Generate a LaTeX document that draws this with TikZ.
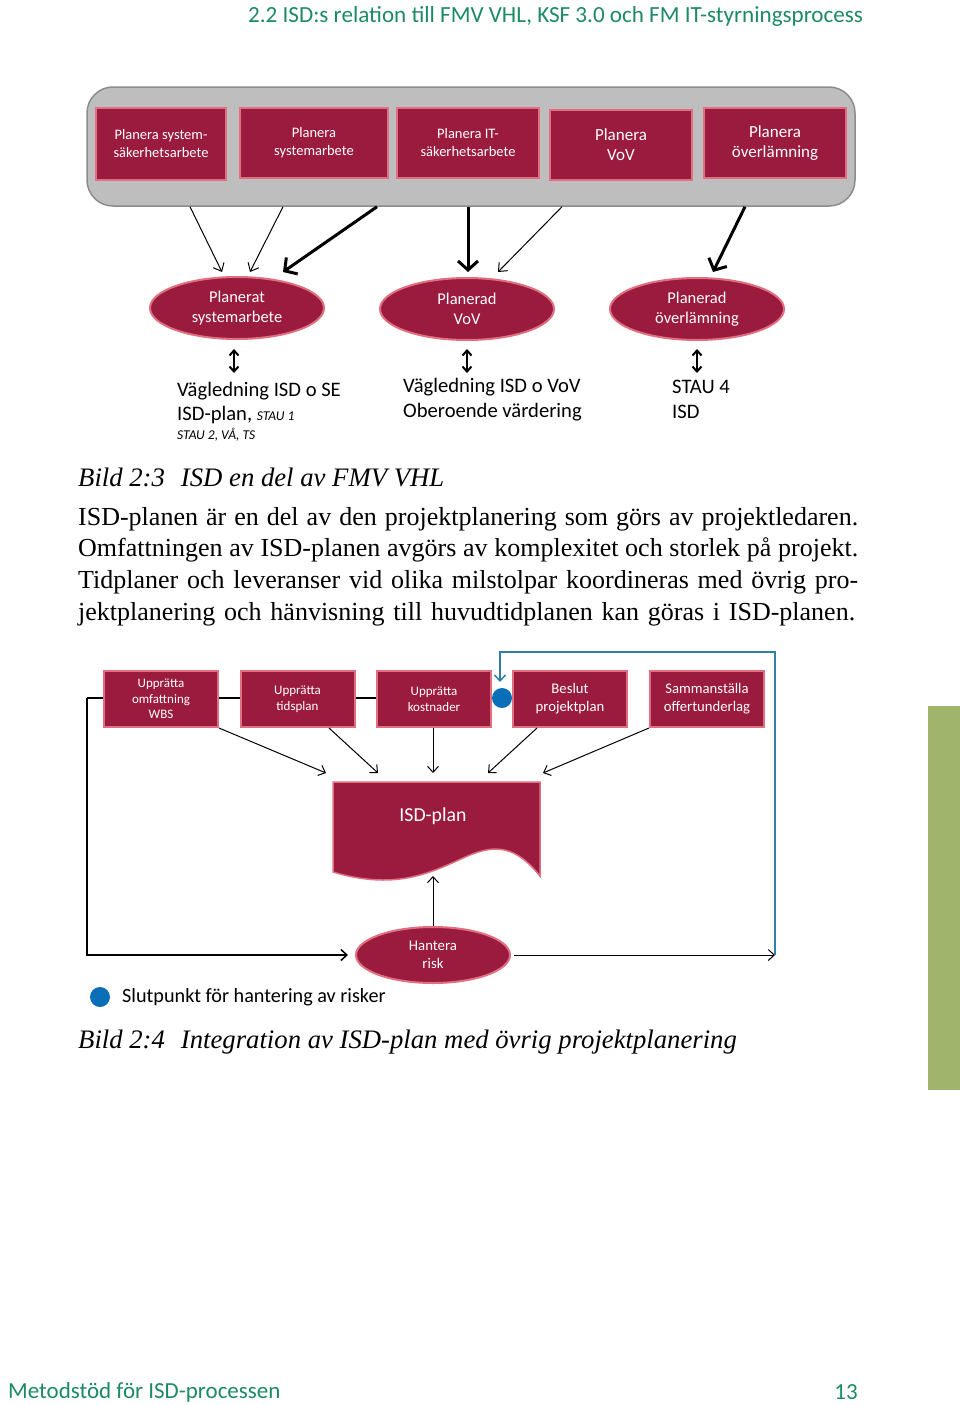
\documentclass[tikz,border=0pt]{standalone}
\usepackage{fontspec}
\setmainfont{Liberation Serif}
\newfontfamily\carl{Carlito}
\usetikzlibrary{shapes.geometric,arrows.meta}
\definecolor{crim}{HTML}{9B1B3E}
\definecolor{pinkb}{HTML}{E0707F}
\definecolor{grayf}{HTML}{BEBEBE}
\definecolor{grayb}{HTML}{8C8C8C}
\definecolor{bluedot}{HTML}{0B6FB8}
\definecolor{blueline}{HTML}{2F7FA6}
\definecolor{hdrgreen}{HTML}{1E8A64}
\definecolor{bargreen}{HTML}{A1B46B}
\tikzset{
  topbox/.style={draw=pinkb, line width=2.5pt, fill=crim, text=white, minimum height=70pt, inner sep=0pt, align=center, font=\carl\fontsize{14.5}{18}\selectfont},
  ell/.style={ellipse, draw=pinkb, line width=2pt, fill=crim, text=white, minimum width=174pt, minimum height=62pt, inner sep=0pt, align=center, font=\carl\fontsize{16.5}{20}\selectfont},
  lowbox/.style={draw=pinkb, line width=2pt, fill=crim, text=white, minimum width=114pt, minimum height=56pt, inner sep=0pt, align=center, font=\carl\fontsize{13}{15.5}\selectfont},
  thinarr/.style={line width=1pt, -{Straight Barb[length=7pt,width=12pt]}},
  thickarr/.style={line width=3pt, -{Straight Barb[length=9pt,width=20pt]}},
  lowarr/.style={line width=1pt, -{Straight Barb[length=6pt,width=11pt]}},
  dblarr/.style={line width=2pt, {Straight Barb[length=5pt,width=9pt]}-{Straight Barb[length=5pt,width=9pt]}},
  gtxt/.style={anchor=west, inner sep=0pt, font=\carl\fontsize{20.6}{25}\selectfont, align=left},
  captxt/.style={anchor=west, inner sep=0pt, font=\itshape\fontsize{26.7}{30}\selectfont},
}
\begin{document}
\begin{tikzpicture}[x=1pt,y=-1pt]
\useasboundingbox (0,0) rectangle (960,1405);
\fill[white] (0,0) rectangle (960,1405);
% header / footer
\node[anchor=west, inner sep=0pt, text=hdrgreen, font=\carl\fontsize{23.1}{26}\selectfont] (hdr) at (248,16) {2.2 ISD:s relation till FMV VHL, KSF 3.0 och FM IT-styrningsprocess};
\node[anchor=west, inner sep=0pt, text=hdrgreen, font=\carl\fontsize{23}{26}\selectfont] (ftr) at (8,1392) {Metodstöd för ISD-processen};
\node[anchor=east, inner sep=0pt, text=hdrgreen, font=\carl\fontsize{23}{26}\selectfont] (pg) at (858,1392) {13};
\fill[bargreen] (928,706) rectangle (960,1090);

% top group
\node[draw=grayb, line width=1.5pt, fill=grayf, rounded corners=26pt, minimum width=768pt, minimum height=119pt] (grp) at (471,146.5) {};
\node[topbox, minimum width=130pt, minimum height=72pt] (p1) at (161,144) {Planera system-\\säkerhetsarbete};
\node[topbox, minimum width=148pt] (p2) at (314,143) {Planera\\systemarbete};
\node[topbox, minimum width=142pt] (p3) at (468,143) {Planera IT-\\säkerhetsarbete};
\node[topbox, minimum width=142pt, font=\carl\fontsize{17}{20}\selectfont] (p4) at (621,145) {Planera\\VoV};
\node[topbox, minimum width=142pt, font=\carl\fontsize{17}{20}\selectfont] (p5) at (775,143) {Planera\\överlämning};

\node[ell] (e1) at (237,308) {Planerat\\systemarbete};
\node[ell] (e2) at (467,309) {Planerad\\VoV};
\node[ell] (e3) at (697,309) {Planerad\\överlämning};

\draw[thinarr] (grp.south -| 190,0) -- (222,272);
\draw[thinarr] (grp.south -| 283,0) -- (250,272);
\draw[thickarr] (grp.south -| 377,0) -- (283,272);
\draw[thickarr] (grp.south -| 468,0) -- (468,272);
\draw[thinarr] (grp.south -| 562,0) -- (498,272);
\draw[thickarr] (grp.south -| 745,0) -- (713,272);

\coordinate (d1a) at (234,349); \coordinate (d1b) at (234,373);
\coordinate (d2a) at (467,349); \coordinate (d2b) at (467,373);
\coordinate (d3a) at (697,349); \coordinate (d3b) at (697,373);
\draw[dblarr] (d1a) -- (d1b);
\draw[dblarr] (d2a) -- (d2b);
\draw[dblarr] (d3a) -- (d3b);

\node[gtxt] (t1a) at (177,391) {Vägledning ISD o SE};
\node[gtxt] (t1b) at (177,415) {ISD-plan, {\itshape\fontsize{13.5}{15}\selectfont STAU 1}};
\node[gtxt, font=\carl\itshape\fontsize{13.5}{15}\selectfont] (t1c) at (177,435) {STAU 2, VÅ, TS};
\node[gtxt] (t2a) at (403,387) {Vägledning ISD o VoV};
\node[gtxt] (t2b) at (403,412) {Oberoende värdering};
\node[gtxt] (t3a) at (672,387) {STAU 4};
\node[gtxt] (t3b) at (672,412) {ISD};

\node[captxt] (cap1) at (78,477) {Bild 2:3\hspace{16pt}ISD en del av FMV VHL};

\node[anchor=north west, inner sep=0pt, align=left, font=\fontsize{26}{31.7}\selectfont] (para) at (78,507) {%
\makebox[780pt][s]{ISD-planen är en del av den projektplanering som görs av projektledaren.}\\
\makebox[780pt][s]{Omfattningen av ISD-planen avgörs av komplexitet och storlek på projekt.}\\
\makebox[780pt][s]{Tidplaner och leveranser vid olika milstolpar koordineras med övrig pro-}\\
\makebox[777pt][s]{jektplanering och hänvisning till huvudtidplanen kan göras i ISD-planen.}};

% lower diagram
\coordinate (lstart) at (87,698);
\node[circle, fill=bluedot, minimum size=20pt, inner sep=0pt] (dot) at (502,698) {};
\draw[line width=1.5pt] (lstart) -- (dot);
\node[lowbox] (u1) at (161,699) {Upprätta\\omfattning\\WBS};
\node[lowbox] (u2) at (297.5,699) {Upprätta\\tidsplan};
\node[lowbox] (u3) at (434,699) {Upprätta\\kostnader};
\node[lowbox, font=\carl\fontsize{14.7}{18}\selectfont] (u4) at (570,699) {Beslut\\projektplan};
\node[lowbox, font=\carl\fontsize{14.7}{18}\selectfont] (u5) at (707,699) {Sammanställa\\offertunderlag};

% ISD-plan document
\fill[crim] (333,782) -- (540,782) -- (540,876) .. controls (515,845) and (495,845) .. (470,855) .. controls (435,870) and (400,892) .. (333,872) -- cycle;
\draw[pinkb, line width=1.5pt] (333,782) -- (540,782) -- (540,876) .. controls (515,845) and (495,845) .. (470,855) .. controls (435,870) and (400,892) .. (333,872) -- cycle;
\node[text=white, font=\carl\fontsize{19.8}{22}\selectfont, inner sep=0pt] (isd) at (433,816) {ISD-plan};
\coordinate (isdtop1) at (326,773);
\coordinate (isdtop2) at (378,773);
\coordinate (isdtop3) at (433,773);
\coordinate (isdtop4) at (488,773);
\coordinate (isdtop5) at (543,773);
\coordinate (isdbot) at (433,876);
\draw[lowarr] (u1.south east) -- (isdtop1);
\draw[lowarr] (u2.south -| 329,0) -- (isdtop2);
\draw[lowarr] (u3.south -| 433,0) -- (isdtop3);
\draw[lowarr] (u4.south -| 537,0) -- (isdtop4);
\draw[lowarr] (u5.south west) -- (isdtop5);

\node[ell, minimum width=154pt, minimum height=56pt, font=\carl\fontsize{14.8}{18}\selectfont] (hr) at (433,955) {Hantera\\risk};
\draw[lowarr] (hr.north) -- (isdbot);
\coordinate (lcorner) at (87,955);
\coordinate (hrin) at (348,955);
\coordinate (rend) at (775,955);
\coordinate (bc1) at (775,652);
\coordinate (bc2) at (500,652);
\coordinate (bend) at (500,682);
\draw[line width=1.5pt, -{Straight Barb[length=6pt,width=11pt]}] (lstart) -- (lcorner) -- (hrin);
\draw[lowarr] (hr.east) ++(3,0) -- (rend);
\draw[blueline, line width=1.5pt, -{Straight Barb[length=6pt,width=11pt]}] (rend) -- (bc1) -- (bc2) -- (bend);

% legend
\node[circle, fill=bluedot, minimum size=20pt, inner sep=0pt] (ldot) at (100,997) {};
\node[anchor=west, inner sep=0pt, font=\carl\fontsize{20.2}{22}\selectfont] (ltxt) at (122,997) {Slutpunkt för hantering av risker};

\node[captxt] (cap2) at (78,1042) {Bild 2:4\hspace{16pt}Integration av ISD-plan med övrig projektplanering};
\end{tikzpicture}
\end{document}
